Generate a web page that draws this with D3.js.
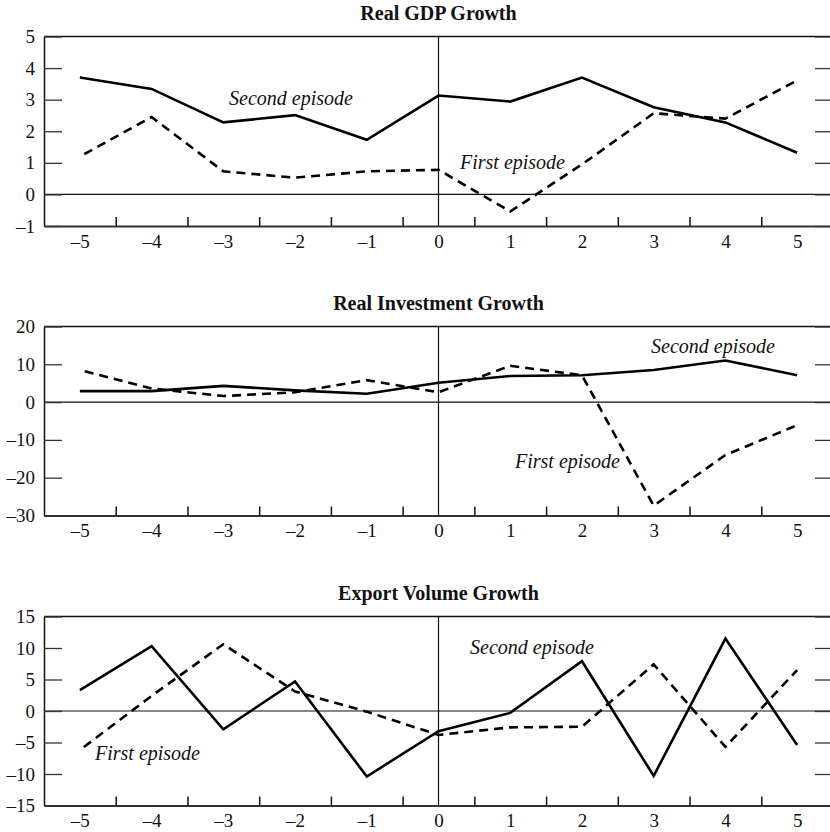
<!DOCTYPE html>
<html>
<head>
<meta charset="utf-8">
<script src="https://cdn.jsdelivr.net/npm/d3@7"></script>
<style>
  html, body { margin: 0; padding: 0; background: #fff; }
  svg { display: block; }
  text { font-family: "Liberation Serif", "DejaVu Serif", serif; fill: #111; }
</style>
</head>
<body>
<svg id="chart" width="830" height="832"></svg>
<script>
// Years relative to the start of each episode
const years = [-5, -4, -3, -2, -1, 0, 1, 2, 3, 4, 5];
const yearLabels = ["–5", "–4", "–3", "–2", "–1", "0", "1", "2", "3", "4", "5"];

// Real GDP growth (percent)
const gdpFirst  = [1.20, 2.45, 0.73, 0.53, 0.73, 0.78, -0.54, 0.95, 2.57, 2.40, 3.61];
const gdpSecond = [3.70, 3.34, 2.28, 2.51, 1.73, 3.13, 2.94, 3.70, 2.76, 2.28, 1.32];
const gdpTicks  = [-1, 0, 1, 2, 3, 4, 5];
const gdpTickLabels = ["–1", "0", "1", "2", "3", "4", "5"];

// Real investment growth (percent)
const invFirst  = [8.5, 3.6, 1.6, 2.6, 5.8, 2.6, 9.6, 7.1, -27.4, -14.0, -6.1];
const invSecond = [2.9, 2.9, 4.3, 3.1, 2.2, 5.1, 6.9, 7.1, 8.5, 11.0, 7.1];
const invTicks  = [-30, -20, -10, 0, 10, 20];
const invTickLabels = ["–30", "–20", "–10", "0", "10", "20"];

// Export volume growth (percent)
const expFirst  = [-6.2, 2.4, 10.6, 3.1, -0.1, -3.8, -2.6, -2.5, 7.4, -5.7, 6.5];
const expSecond = [3.3, 10.3, -2.9, 4.7, -10.4, -3.2, -0.3, 7.9, -10.3, 11.5, -5.4];
const expTicks  = [-15, -10, -5, 0, 5, 10, 15];
const expTickLabels = ["–15", "–10", "–5", "0", "5", "10", "15"];

const titles = ["Real GDP Growth", "Real Investment Growth", "Export Volume Growth"];

const panels = [
  { title: titles[0], first: gdpFirst, second: gdpSecond, ticks: gdpTicks, tickLabels: gdpTickLabels,
    top: 36.5, bottom: 226,
    labels: [
      { text: "Second episode", x: 229, y: 105 },
      { text: "First episode",  x: 460, y: 169 }
    ] },
  { title: titles[1], first: invFirst, second: invSecond, ticks: invTicks, tickLabels: invTickLabels,
    top: 326.5, bottom: 515.5,
    labels: [
      { text: "Second episode", x: 651, y: 353 },
      { text: "First episode",  x: 515, y: 468 }
    ] },
  { title: titles[2], first: expFirst, second: expSecond, ticks: expTicks, tickLabels: expTickLabels,
    top: 616.5, bottom: 805.5,
    labels: [
      { text: "Second episode", x: 470, y: 654 },
      { text: "First episode",  x: 95,  y: 760 }
    ] }
];

const svg = d3.select("#chart");
const left = 44, right = 833;

const x = d3.scaleLinear().domain([-5.5, 5.5]).range([left, right]);

panels.forEach(p => {
  const y = d3.scaleLinear()
    .domain([p.ticks[0], p.ticks[p.ticks.length - 1]])
    .range([p.bottom, p.top]);

  const g = svg.append("g");

  // title
  g.append("text")
    .attr("x", x(0))
    .attr("y", p.top - 17)
    .attr("text-anchor", "middle")
    .attr("font-weight", "bold")
    .attr("font-size", 20)
    .text(p.title);

  // top border
  g.append("line")
    .attr("x1", left).attr("x2", right)
    .attr("y1", p.top).attr("y2", p.top)
    .attr("stroke", "#111").attr("stroke-width", 1.5);

  // zero line
  g.append("line")
    .attr("x1", left).attr("x2", right)
    .attr("y1", y(0)).attr("y2", y(0))
    .attr("stroke", "#111").attr("stroke-width", 1.2);

  // vertical line at year 0
  g.append("line")
    .attr("x1", x(0)).attr("x2", x(0))
    .attr("y1", p.top).attr("y2", p.bottom)
    .attr("stroke", "#111").attr("stroke-width", 1.2);

  // left axis: inward ticks, labels outside
  const yLeft = g.append("g")
    .attr("transform", `translate(${left},0)`)
    .call(d3.axisLeft(y)
      .tickValues(p.ticks)
      .tickFormat((d, i) => p.tickLabels[i])
      .tickSizeInner(-18)
      .tickSizeOuter(0)
      .tickPadding(9));
  yLeft.select(".domain").attr("stroke", "#111").attr("stroke-width", 1.5);
  yLeft.selectAll(".tick line").attr("stroke", "#333").attr("stroke-width", 1.3);
  yLeft.selectAll(".tick text")
    .attr("font-family", "Liberation Serif, serif")
    .attr("font-size", 19)
    .attr("fill", "#111");

  // right axis: inward ticks only
  const yRight = g.append("g")
    .attr("transform", `translate(${right},0)`)
    .call(d3.axisRight(y)
      .tickValues(p.ticks)
      .tickFormat("")
      .tickSizeInner(-18)
      .tickSizeOuter(0));
  yRight.select(".domain").attr("stroke", "#111").attr("stroke-width", 1.5);
  yRight.selectAll(".tick line").attr("stroke", "#333").attr("stroke-width", 1.3);

  // bottom axis: labels at each year, short ticks between years
  const xAxis = g.append("g")
    .attr("transform", `translate(0,${p.bottom})`)
    .call(d3.axisBottom(x)
      .tickValues(years)
      .tickFormat((d, i) => yearLabels[i])
      .tickSize(0)
      .tickPadding(8.5));
  xAxis.select(".domain").attr("stroke", "#333").attr("stroke-width", 2);
  xAxis.selectAll(".tick text")
    .attr("font-family", "Liberation Serif, serif")
    .attr("font-size", 19)
    .attr("fill", "#111");

  const between = d3.range(-4.5, 5.5, 1);
  g.append("g")
    .attr("transform", `translate(0,${p.bottom})`)
    .call(d3.axisTop(x)
      .tickValues(between)
      .tickFormat("")
      .tickSizeInner(9)
      .tickSizeOuter(0))
    .call(a => a.select(".domain").remove())
    .selectAll(".tick line").attr("stroke", "#111").attr("stroke-width", 1.5);

  const line = d3.line()
    .x((d, i) => x(years[i]))
    .y(d => y(d));

  // first episode (dashed)
  g.append("path")
    .datum(p.first)
    .attr("d", line)
    .attr("fill", "none")
    .attr("stroke", "#000")
    .attr("stroke-width", 2.6)
    .attr("stroke-dasharray", "9,6")
    .attr("stroke-dashoffset", 10);

  // second episode (solid)
  g.append("path")
    .datum(p.second)
    .attr("d", line)
    .attr("fill", "none")
    .attr("stroke", "#000")
    .attr("stroke-width", 2.6)
    .attr("stroke-linejoin", "miter");

  // series labels
  p.labels.forEach(l => {
    g.append("text")
      .attr("x", l.x)
      .attr("y", l.y)
      .attr("font-style", "italic")
      .attr("font-size", 20)
      .text(l.text);
  });
});
</script>
</body>
</html>
